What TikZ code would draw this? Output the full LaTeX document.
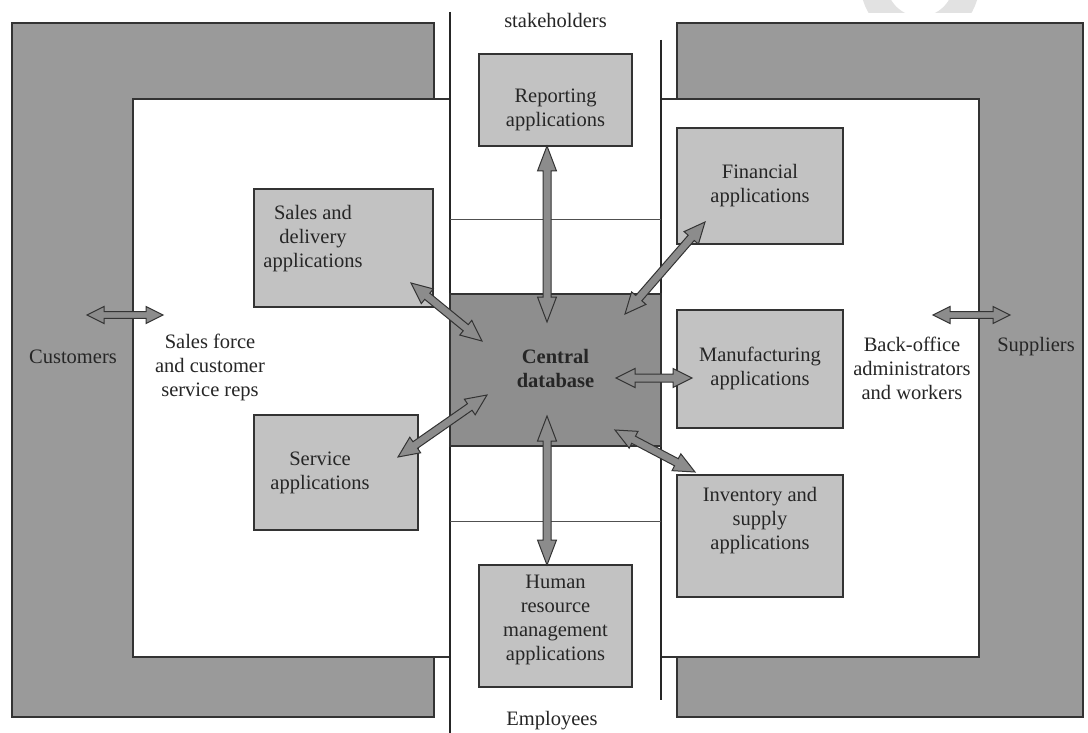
\documentclass[tikz,border=0pt]{standalone}
\usepackage{fontspec}
\setmainfont{Liberation Serif}
\usetikzlibrary{calc}

\definecolor{regiongray}{HTML}{9A9A9A}
\definecolor{boxgray}{HTML}{C2C2C2}
\definecolor{dbgray}{HTML}{8E8E8E}
\definecolor{arrowgray}{HTML}{8C8C8C}
\definecolor{edgegray}{HTML}{333333}
\definecolor{rulegray}{HTML}{505050}
\definecolor{ringgray}{HTML}{E2E2E2}

% double-headed block arrow between two named points:
% #1 head length, #2 head half-width, #3 shaft half-width, #4 from, #5 to
\newcommand\widearrow[5]{%
  \coordinate (wa1) at ($(#4)!#1!(#5)$);
  \coordinate (wa2) at ($(#5)!#1!(#4)$);
  \draw[blockarrow] (#4)
    -- ($(wa1)!#2!-90:(#5)$) -- ($(wa1)!#3!-90:(#5)$)
    -- ($(wa2)!#3!90:(#4)$) -- ($(wa2)!#2!90:(#4)$)
    -- (#5)
    -- ($(wa2)!#2!-90:(#4)$) -- ($(wa2)!#3!-90:(#4)$)
    -- ($(wa1)!#3!90:(#5)$) -- ($(wa1)!#2!90:(#5)$)
    -- cycle;}

\begin{document}
\begin{tikzpicture}[x=1pt,y=-1pt,
  region/.style={draw=edgegray,line width=1.3pt,fill=regiongray},
  panel/.style={draw=edgegray,line width=1.3pt,fill=white},
  divider/.style={draw=black!85,line width=1.2pt},
  crossrule/.style={draw=rulegray,line width=1pt},
  appbox/.style={draw=edgegray,line width=1.2pt,fill=boxgray,inner sep=0pt},
  dbbox/.style={draw=edgegray,line width=1.2pt,fill=dbgray,inner sep=0pt},
  txt/.style={align=center,text=black!85,font=\fontsize{20.5}{24}\selectfont,inner sep=0pt},
  blockarrow/.style={draw=black!80,line width=1pt,fill=arrowgray,line join=miter}]

\useasboundingbox (0,0) rectangle (1088,733);
\fill[white] (0,0) rectangle (1088,733);

% faint ring along the top edge
\begin{scope}
  \clip (0,0) rectangle (1088,13);
  \draw[ringgray,line width=26pt] (920,-17) circle[radius=46.5];
\end{scope}

% outer regions: customers (left) and suppliers (right)
\draw[region] (12,23) rectangle (434,717);
\draw[region] (677,23) rectangle (1083,717);

% inner panels: front office (left) and back office (right)
\draw[panel] (133,99) rectangle (450,657);
\draw[panel] (661,99) rectangle (979,657);

% central column dividers
\draw[divider] (450,12) -- (450,733);
\draw[divider] (661,40) -- (661,700);
\draw[crossrule] (450,220) -- (661,220);
\draw[crossrule] (450,521) -- (661,521);

% application boxes
\node[appbox,minimum width=153pt,minimum height=92pt]  (rep) at (555.5,100) {};
\node[appbox,minimum width=179pt,minimum height=118pt] (sal) at (343.5,248) {};
\node[appbox,minimum width=166pt,minimum height=116pt] (fin) at (760,186) {};
\node[dbbox, minimum width=211pt,minimum height=152pt] (db)  at (555.5,370) {};
\node[appbox,minimum width=166pt,minimum height=118pt] (mfg) at (760,369) {};
\node[appbox,minimum width=164pt,minimum height=115pt] (svc) at (336,472.5) {};
\node[appbox,minimum width=166pt,minimum height=122pt] (inv) at (760,536) {};
\node[appbox,minimum width=153pt,minimum height=122pt] (hrm) at (555.5,626) {};

% box texts
\node[txt] (repT) at (555.5,110) {Reporting\\applications};
\node[txt] (salT) at (313,239) {Sales and\\delivery\\applications};
\node[txt] (finT) at (760,186) {Financial\\applications};
\node[txt,font=\fontsize{20.5}{24}\selectfont\bfseries] (dbT) at (555.5,368) {Central\\database};
\node[txt] (mfgT) at (760,368) {Manufacturing\\applications};
\node[txt] (svcT) at (320,473) {Service\\applications};
\node[txt] (invT) at (760,521) {Inventory and\\supply\\applications};
\node[txt] (hrmT) at (555.5,620) {Human\\resource\\management\\applications};

% arrow end points
\coordinate (repA) at (547,146);   \coordinate (repB) at (547,322);
\coordinate (hrmA) at (547,565);   \coordinate (hrmB) at (547,416);
\coordinate (salA) at (411,283);   \coordinate (salB) at (482,341);
\coordinate (svcA) at (398,457);   \coordinate (svcB) at (487,395);
\coordinate (finA) at (705,222);   \coordinate (finB) at (625,314);
\coordinate (mfgA) at (692,378);   \coordinate (mfgB) at (616,378);
\coordinate (invA) at (695,472);   \coordinate (invB) at (615,430);
\coordinate (cusA) at (87,315);    \coordinate (cusB) at (163,315);
\coordinate (supA) at (933,315);   \coordinate (supB) at (1010,315);

% data flows to and from the central database
\widearrow{25pt}{9.5pt}{4pt}{repA}{repB}
\widearrow{25pt}{9.5pt}{4pt}{hrmA}{hrmB}
\widearrow{21pt}{9.5pt}{4pt}{salA}{salB}
\widearrow{21pt}{9.5pt}{4pt}{svcA}{svcB}
\widearrow{21pt}{9.5pt}{4pt}{finA}{finB}
\widearrow{19pt}{9.5pt}{4pt}{mfgA}{mfgB}
\widearrow{21pt}{9.5pt}{4pt}{invA}{invB}
\widearrow{17pt}{8.5pt}{3.3pt}{cusA}{cusB}
\widearrow{17pt}{8.5pt}{3.3pt}{supA}{supB}

% region labels
\node[txt] (stake) at (555.5,20)  {stakeholders};
\node[txt] (empl)  at (552,721)   {Employees};
\node[txt] (cust)  at (73,357)    {Customers};
\node[txt] (sfrc)  at (210,367)   {Sales force\\and customer\\service reps};
\node[txt] (back)  at (912,368)   {Back-office\\administrators\\and workers};
\node[txt] (supl)  at (1036,347)  {Suppliers};

\end{tikzpicture}
\end{document}
